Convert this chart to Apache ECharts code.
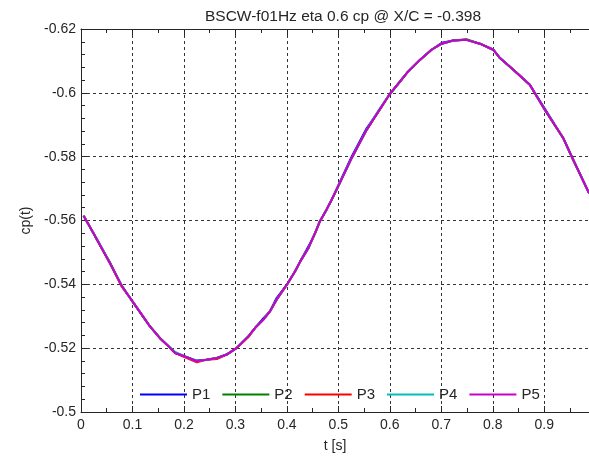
<!DOCTYPE html>
<html>
<head>
<meta charset="utf-8">
<script src="https://cdn.jsdelivr.net/npm/echarts@6/dist/echarts.min.js"></script>
<style>
  html, body { margin: 0; padding: 0; background: #fff; }
  #chart { width: 589px; height: 458px; }
</style>
</head>
<body>
<div id="chart"></div>
<script>
'use strict';
// time samples [s]
const times = [0.005, 0.024, 0.040, 0.056, 0.079, 0.089, 0.102, 0.118, 0.134, 0.153,
    0.170, 0.183, 0.202, 0.225, 0.244, 0.264, 0.283, 0.302, 0.325, 0.338,
    0.354, 0.367, 0.380, 0.400, 0.416, 0.426, 0.442, 0.455, 0.464, 0.477,
    0.487, 0.503, 0.526, 0.555, 0.578, 0.599, 0.633, 0.659, 0.681, 0.701,
    0.723, 0.749, 0.775, 0.801, 0.814, 0.840, 0.872, 0.901, 0.937, 0.956, 0.987];

const p1 = [-0.5615, -0.5561, -0.5514, -0.5467, -0.5396, -0.5372, -0.5342, -0.5305, -0.5268, -0.5232,
    -0.5206, -0.5185, -0.5174, -0.5161, -0.5164, -0.5169, -0.5180, -0.5200, -0.5237, -0.5263,
    -0.5293, -0.5315, -0.5357, -0.5399, -0.5441, -0.5472, -0.5519, -0.5561, -0.5597, -0.5634,
    -0.5665, -0.5721, -0.5801, -0.5889, -0.5942, -0.5994, -0.6062, -0.6104, -0.6135, -0.6157,
    -0.6164, -0.6166, -0.6154, -0.6135, -0.6109, -0.6072, -0.6025, -0.5951, -0.5858, -0.5791, -0.5686];
const p2 = [-0.5615, -0.5561, -0.5514, -0.5470, -0.5396, -0.5372, -0.5342, -0.5305, -0.5268, -0.5232,
    -0.5206, -0.5185, -0.5174, -0.5159, -0.5164, -0.5169, -0.5180, -0.5200, -0.5237, -0.5263,
    -0.5289, -0.5315, -0.5352, -0.5399, -0.5441, -0.5472, -0.5514, -0.5561, -0.5597, -0.5634,
    -0.5665, -0.5718, -0.5796, -0.5884, -0.5942, -0.5994, -0.6062, -0.6104, -0.6135, -0.6154,
    -0.6164, -0.6168, -0.6154, -0.6135, -0.6109, -0.6072, -0.6025, -0.5947, -0.5858, -0.5791, -0.5686];
const p3 = [-0.5615, -0.5561, -0.5514, -0.5467, -0.5393, -0.5372, -0.5342, -0.5305, -0.5268, -0.5232,
    -0.5206, -0.5185, -0.5171, -0.5156, -0.5164, -0.5166, -0.5180, -0.5200, -0.5234, -0.5263,
    -0.5289, -0.5315, -0.5352, -0.5399, -0.5441, -0.5472, -0.5514, -0.5561, -0.5597, -0.5634,
    -0.5665, -0.5718, -0.5796, -0.5884, -0.5942, -0.5994, -0.6062, -0.6104, -0.6135, -0.6154,
    -0.6164, -0.6166, -0.6154, -0.6135, -0.6109, -0.6072, -0.6025, -0.5947, -0.5858, -0.5791, -0.5686];
const p4 = [-0.5615, -0.5561, -0.5517, -0.5467, -0.5396, -0.5372, -0.5342, -0.5305, -0.5268, -0.5232,
    -0.5206, -0.5188, -0.5174, -0.5159, -0.5164, -0.5169, -0.5180, -0.5200, -0.5237, -0.5263,
    -0.5289, -0.5315, -0.5352, -0.5399, -0.5441, -0.5472, -0.5514, -0.5561, -0.5597, -0.5634,
    -0.5665, -0.5718, -0.5796, -0.5884, -0.5945, -0.5994, -0.6062, -0.6104, -0.6135, -0.6154,
    -0.6164, -0.6166, -0.6154, -0.6135, -0.6109, -0.6072, -0.6025, -0.5947, -0.5858, -0.5791, -0.5686];
const p5 = [-0.5615, -0.5561, -0.5514, -0.5467, -0.5396, -0.5372, -0.5342, -0.5305, -0.5268, -0.5232,
    -0.5206, -0.5185, -0.5174, -0.5159, -0.5164, -0.5169, -0.5180, -0.5200, -0.5237, -0.5263,
    -0.5289, -0.5315, -0.5352, -0.5399, -0.5441, -0.5472, -0.5514, -0.5561, -0.5597, -0.5634,
    -0.5665, -0.5718, -0.5796, -0.5884, -0.5942, -0.5994, -0.6062, -0.6104, -0.6135, -0.6154,
    -0.6164, -0.6166, -0.6154, -0.6135, -0.6109, -0.6072, -0.6025, -0.5947, -0.5858, -0.5791, -0.5686];

const seriesNames = ['P1', 'P2', 'P3', 'P4', 'P5'];
const seriesValues = [p1, p2, p3, p4, p5];
const seriesColors = ['#0000ff', '#008000', '#ff0000', '#00bfbf', '#cc00cc'];

const textColor = '#262626';
const fontFamily = 'Liberation Sans, Arial, sans-serif';

function init() {
    const chart = echarts.init(document.getElementById('chart'));
    const gridDash = {
        show: true,
        lineStyle: { color: '#333', type: [3, 3], width: 1 },
    };
    const option = {
        animation: false,
        backgroundColor: '#fff',
        title: {
            text: 'BSCW-f01Hz eta 0.6 cp @ X/C = -0.398',
            left: 338,
            top: 4,
            textAlign: 'center',
            textStyle: { fontSize: 15.5, fontWeight: 'normal', color: textColor, fontFamily: fontFamily },
        },
        legend: {
            data: seriesNames.map((n) => ({ name: n, icon: 'rect' })),
            left: 135,
            top: 382,
            itemWidth: 47,
            itemHeight: 2,
            itemGap: 12,
            textStyle: { fontSize: 15, color: textColor, fontFamily: fontFamily },
        },
        grid: {
            left: 81,
            right: 0,
            top: 29,
            bottom: 46,
        },
        xAxis: [
            {
                type: 'value',
                min: 0,
                max: 0.987,
                interval: 0.1,
                name: 't [s]',
                nameLocation: 'middle',
                nameGap: 27,
                nameTextStyle: { fontSize: 14, color: textColor, fontFamily: fontFamily },
                axisLine: { show: true, lineStyle: { color: textColor } },
                axisTick: { show: true, inside: true, length: 6, lineStyle: { color: textColor } },
                minorTick: { show: true, splitNumber: 2, length: 4, lineStyle: { color: textColor } },
                axisLabel: { showMaxLabel: false, margin: 6, fontSize: 14, color: textColor, fontFamily: fontFamily },
                splitLine: gridDash,
            },
            {
                type: 'value',
                position: 'top',
                min: 0,
                max: 0.987,
                interval: 0.1,
                axisLine: { show: true, onZero: false, lineStyle: { color: textColor } },
                axisTick: { show: true, inside: true, length: 6, lineStyle: { color: textColor } },
                minorTick: { show: true, splitNumber: 2, length: 4, lineStyle: { color: textColor } },
                axisLabel: { show: false },
                splitLine: { show: false },
            },
        ],
        yAxis: {
            type: 'value',
            inverse: true,
            min: -0.62,
            max: -0.5,
            interval: 0.02,
            name: 'cp(t)',
            nameLocation: 'middle',
            nameGap: 48,
            nameTextStyle: { fontSize: 14, color: textColor, fontFamily: fontFamily },
            axisLine: { show: true, lineStyle: { color: textColor } },
            axisTick: { show: true, inside: true, length: 6, lineStyle: { color: textColor } },
            minorTick: { show: true, splitNumber: 5, length: 4, lineStyle: { color: textColor } },
            axisLabel: { margin: 5, fontSize: 14, color: textColor, fontFamily: fontFamily },
            splitLine: gridDash,
        },
        series: seriesNames.map((name, i) => ({
            name: name,
            type: 'line',
            xAxisIndex: 0,
            symbol: 'none',
            data: times.map((t, j) => [t, seriesValues[i][j]]),
            lineStyle: { color: seriesColors[i], width: 2 },
            itemStyle: { color: seriesColors[i] },
        })),
    };
    chart.setOption(option);
}

(function () {
    init();
})();
</script>
</body>
</html>
